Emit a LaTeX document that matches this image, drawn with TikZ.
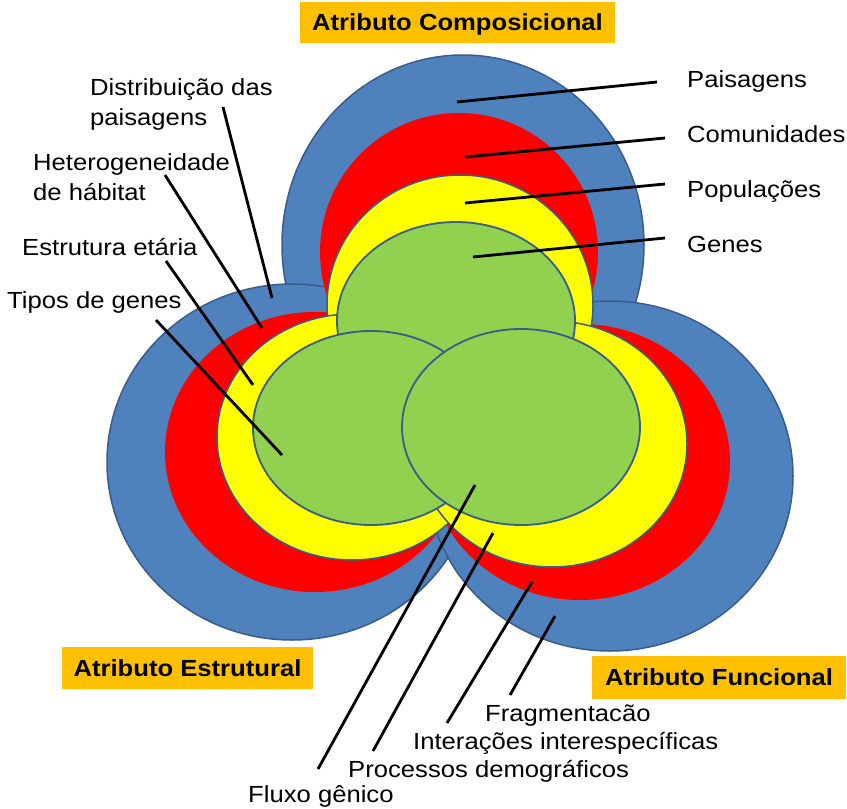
\documentclass[tikz,border=0pt]{standalone}
\usepackage{fontspec}
\setmainfont{Liberation Sans}[FakeStretch=1.1]
\definecolor{cblue}{RGB}{79,129,189}
\definecolor{cline}{RGB}{56,93,138}
\definecolor{cred}{RGB}{255,0,0}
\definecolor{cyel}{RGB}{255,255,0}
\definecolor{cgreen}{RGB}{146,208,80}
\definecolor{corange}{RGB}{255,192,0}
\begin{document}
\begin{tikzpicture}[x=1bp,y=-1bp,
  lbl/.style={anchor=base west, inner sep=0pt, font=\fontsize{23.4}{30.1}\selectfont, align=left},
  attr/.style={fill=corange, inner sep=0pt, font=\fontsize{23.4}{30.1}\selectfont\bfseries, text height=16.7bp, text depth=0pt},
  lead/.style={line width=2.8bp, black},
  bluering/.style={fill=cblue, draw=cline, line width=1.5bp},
  redring/.style={fill=cred},
  yelring/.style={fill=cyel, draw=cline, line width=1.5bp},
  greenring/.style={fill=cgreen, draw=cline, line width=1.8bp}
]
\fill[white] (0,0) rectangle (847,809);
\useasboundingbox (0,0) rectangle (847,809);

% blue
\path[bluering] (463,245) ellipse [x radius=181, y radius=190];
\path[bluering] (292,462) ellipse [x radius=185, y radius=178];
\path[bluering] (610,476) ellipse [x radius=183, y radius=175];
% red
\path[redring] (459,252) ellipse [x radius=139, y radius=139];
\path[redring] (315,452) ellipse [x radius=150, y radius=140];
\path[redring] (580,462) ellipse [x radius=150, y radius=138];
% yellow
\path[yelring] (460,305) ellipse [x radius=133, y radius=130];
\path[yelring] (352,437) ellipse [x radius=135, y radius=123];
\path[yelring] (552,444) ellipse [x radius=135, y radius=123];
% green
\path[greenring] (456,321) ellipse [x radius=119, y radius=99];
\path[greenring] (371,428) ellipse [x radius=118, y radius=97];
\path[greenring] (521,427) ellipse [x radius=119, y radius=98];

% attribute boxes
\node[attr, minimum width=315bp, minimum height=41bp] (tComp) at (457.5,22.5) {Atributo Composicional};
\node[attr, minimum width=251bp, minimum height=42bp] (tEstr) at (187.5,668) {Atributo Estrutural};
\node[attr, minimum width=254bp, minimum height=43bp] (tFunc) at (719,677.5) {Atributo Funcional};

% right labels
\node[lbl] (lPais) at (687,87) {Paisagens};
\node[lbl] (lComu) at (687,142) {Comunidades};
\node[lbl] (lPopu) at (687,197) {Populações};
\node[lbl] (lGene) at (687,252) {Genes};
% left labels (base anchor = last line)
\node[lbl] (lDist) at (90,125) {Distribuição das\\paisagens};
\node[lbl] (lHete) at (33,200) {Heterogeneidade\\de hábitat};
\node[lbl] (lEstr) at (22,255) {Estrutura etária};
\node[lbl] (lTipo) at (7,308) {Tipos de genes};
% bottom labels
\node[lbl] (lFrag) at (485,721) {Fragmentacão};
\node[lbl] (lInte) at (413,749) {Interações interespecíficas};
\node[lbl] (lProc) at (348,777) {Processos demográficos};
\node[lbl] (lFlux) at (248,802) {Fluxo gênico};

% leader end points
\coordinate (aPais) at (657,82);  \coordinate (bPais) at (457,102);
\coordinate (aComu) at (665,138); \coordinate (bComu) at (465,157);
\coordinate (aPopu) at (665,184); \coordinate (bPopu) at (465,203);
\coordinate (aGene) at (665,238); \coordinate (bGene) at (473,257);
\coordinate (aDist) at (223,107); \coordinate (bDist) at (272,298);
\coordinate (aHete) at (165,175); \coordinate (bHete) at (262,328);
\coordinate (aEstr) at (166,261); \coordinate (bEstr) at (253,385);
\coordinate (aTipo) at (156,320); \coordinate (bTipo) at (282,455);
\coordinate (aFrag) at (510,695); \coordinate (bFrag) at (555,616);
\coordinate (aInte) at (447,723); \coordinate (bInte) at (532,582);
\coordinate (aProc) at (373,751); \coordinate (bProc) at (493,533);
\coordinate (aFlux) at (318,769); \coordinate (bFlux) at (475,485);

\foreach \k in {Pais,Comu,Popu,Gene,Dist,Hete,Estr,Tipo,Frag,Inte,Proc,Flux}
  \draw[lead] (a\k) -- (b\k);
\end{tikzpicture}
\end{document}
